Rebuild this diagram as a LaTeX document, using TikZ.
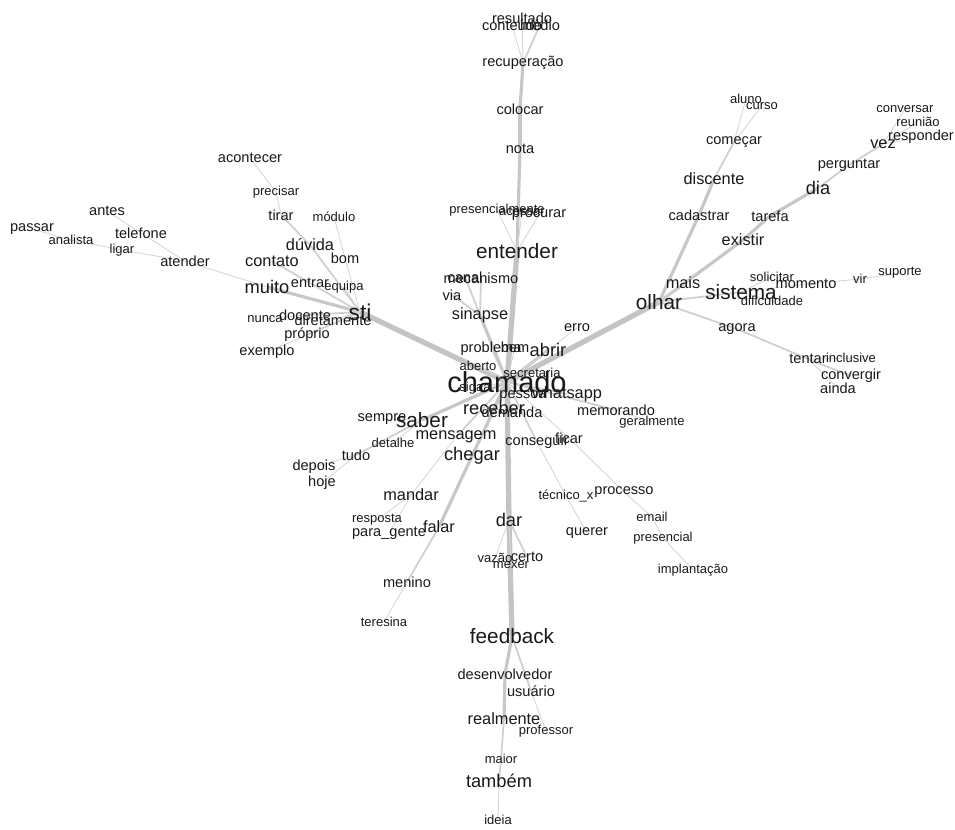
\documentclass[tikz,border=0pt]{standalone}
\usepackage{fontspec}
\setmainfont{Liberation Sans}
\usetikzlibrary{backgrounds}

\begin{document}
\begin{tikzpicture}[x=0.02cm,y=-0.02cm,
        every node/.style={inner sep=0pt, text=black!90},
        t1/.style={font=\fontsize{7.4}{8}\selectfont},
        t2/.style={font=\fontsize{8.3}{9}\selectfont},
        t3/.style={font=\fontsize{9.3}{10}\selectfont},
        t4/.style={font=\fontsize{10.4}{11}\selectfont},
        t5/.style={font=\fontsize{11.8}{12}\selectfont},
        t6/.style={font=\fontsize{13}{14}\selectfont},
        t7/.style={font=\fontsize{16.5}{17}\selectfont},
        e1/.style={draw=gray!32, line width=0.5pt},
        e2/.style={draw=gray!38, line width=1pt},
        e3/.style={draw=gray!44, line width=1.8pt},
        e4/.style={draw=gray!46, line width=3pt}]
        \useasboundingbox (0,0) rectangle (955,829);

        % centre
        \node[t7] (chamado) at (507,382) {chamado};
        \node[t2] (problema) at (491,349) {problema};
        \node[t2] (bem) at (515,347) {bem};
        \node[t4] (abrir) at (548,350) {abrir};
        \node[t2] (erro) at (577,328) {erro};
        \node[t1] (aberto) at (478,366) {aberto};
        \node[t1] (secretaria) at (532,373) {secretaria};
        \node[t1] (sigaa) at (475,388) {sigaa};
        \node[t2] (pessoa) at (523,396) {pessoa};
        \node[t3] (whatsapp) at (567,394) {whatsapp};
        \node[t4] (receber) at (494,408) {receber};
        \node[t2] (demanda) at (512,412) {demanda};

        % top
        \node[t2] (resultado) at (522,18) {resultado};
        \node[t2] (conteudo) at (512,25) {conteúdo};
        \node[t2] (medio) at (540,25) {médio};
        \node[t2] (recuperacao) at (523,63) {recuperação};
        \node[t2] (colocar) at (520,109) {colocar};
        \node[t2] (nota) at (520,149) {nota};
        \node[t1] (presencialmente) at (497,210) {presencialmente};
        \node[t1] (acessar) at (522,212) {acessar};
        \node[t2] (procurar) at (539,215) {procurar};
        \node[t5] (entender) at (517,251) {entender};
        \node[t2] (canal) at (465,277) {canal};
        \node[t2] (mecanismo) at (481,278) {mecanismo};
        \node[t2] (via) at (452,295) {via};
        \node[t3] (sinapse) at (480,315) {sinapse};

        % sti
        \node[t6] (sti) at (360,312) {sti};
        \node[t2] (acontecer) at (250,158) {acontecer};
        \node[t1] (precisar) at (276,192) {precisar};
        \node[t2] (tirar) at (281,215) {tirar};
        \node[t1] (modulo) at (334,217) {módulo};
        \node[t3] (duvida) at (310,245) {dúvida};
        \node[t2] (bom) at (345,258) {bom};
        \node[t3] (contato) at (272,261) {contato};
        \node[t4] (muito) at (267,287) {muito};
        \node[t2] (entrar) at (310,283) {entrar};
        \node[t1] (equipa) at (344,287) {equipa};
        \node[t1] (nunca) at (265,319) {nunca};
        \node[t2] (docente) at (305,315) {docente};
        \node[t2] (diretamente) at (333,320) {diretamente};
        \node[t2] (proprio) at (307,335) {próprio};
        \node[t2] (exemplo) at (267,352) {exemplo};
        \node[t2] (atender) at (185,261) {atender};
        \node[t2] (telefone) at (141,233) {telefone};
        \node[t2] (antes) at (107,211) {antes};
        \node[t1] (ligar) at (122,250) {ligar};
        \node[t1] (analista) at (71,240) {analista};
        \node[t2] (passar) at (32,229) {passar};

        % olhar
        \node[t5] (olhar) at (659,302) {olhar};
        \node[t3] (mais) at (683,283) {mais};
        \node[t2] (cadastrar) at (699,215) {cadastrar};
        \node[t3] (discente) at (714,179) {discente};
        \node[t2] (comecar) at (734,142) {começar};
        \node[t1] (aluno) at (746,99) {aluno};
        \node[t1] (curso) at (762,106) {curso};
        \node[t3] (existir) at (743,240) {existir};
        \node[t2] (tarefa) at (770,216) {tarefa};
        \node[t4] (dia) at (818,188) {dia};
        \node[t2] (perguntar) at (849,165) {perguntar};
        \node[t3] (vez) at (883,144) {vez};
        \node[t1] (conversar) at (905,109) {conversar};
        \node[t1] (reuniao) at (918,122) {reunião};
        \node[t2] (responder) at (921,137) {responder};
        \node[t5] (sistema) at (741,292) {sistema};
        \node[t1] (solicitar) at (772,277) {solicitar};
        \node[t2] (momento) at (806,284) {momento};
        \node[t1] (dificuldade) at (772,301) {dificuldade};
        \node[t1] (vir) at (860,279) {vir};
        \node[t1] (suporte) at (900,273) {suporte};
        \node[t2] (agora) at (737,329) {agora};
        \node[t2] (tentar) at (808,359) {tentar};
        \node[t1] (inclusive) at (851,358) {inclusive};
        \node[t2] (convergir) at (851,376) {convergir};
        \node[t2] (ainda) at (838,388) {ainda};

        % lower right
        \node[t2] (memorando) at (616,410) {memorando};
        \node[t1] (geralmente) at (652,422) {geralmente};
        \node[t2] (ficar) at (569,438) {ficar};
        \node[t2] (conseguir) at (537,442) {conseguir};
        \node[t1] (tecnico) at (566,496) {técnico\_x};
        \node[t2] (processo) at (624,492) {processo};
        \node[t1] (email) at (652,517) {email};
        \node[t1] (presencial) at (663,538) {presencial};
        \node[t2] (querer) at (587,533) {querer};
        \node[t1] (implantacao) at (693,570) {implantação};

        % lower left
        \node[t5] (saber) at (422,420) {saber};
        \node[t2] (sempre) at (382,419) {sempre};
        \node[t1] (detalhe) at (393,443) {detalhe};
        \node[t2] (tudo) at (356,455) {tudo};
        \node[t2] (depois) at (314,467) {depois};
        \node[t2] (hoje) at (322,483) {hoje};
        \node[t3] (mensagem) at (456,437) {mensagem};
        \node[t4] (chegar) at (472,456) {chegar};
        \node[t3] (mandar) at (411,495) {mandar};
        \node[t1] (resposta) at (377,520) {resposta};
        \node[t2] (paragente) at (389,533) {para\_gente};
        \node[t3] (falar) at (439,527) {falar};
        \node[t2] (menino) at (407,582) {menino};
        \node[t1] (teresina) at (384,622) {teresina};

        % bottom
        \node[t4] (dar) at (509,520) {dar};
        \node[t1] (vazao) at (495,558) {vazão};
        \node[t1] (mexer) at (511,565) {mexer};
        \node[t2] (certo) at (527,557) {certo};
        \node[t5] (feedback) at (512,636) {feedback};
        \node[t2] (desenvolvedor) at (505,674) {desenvolvedor};
        \node[t2] (usuario) at (531,691) {usuário};
        \node[t3] (realmente) at (504,719) {realmente};
        \node[t1] (professor) at (546,731) {professor};
        \node[t1] (maior) at (501,759) {maior};
        \node[t4] (tambem) at (499,781) {também};
        \node[t1] (ideia) at (498,820) {ideia};

        \begin{scope}[on background layer]
        \foreach \a/\b in {chamado/entender, chamado/sti, chamado/olhar, chamado/dar, dar/feedback}
            \draw[e4] (\a.center) -- (\b.center);
        \foreach \a/\b in {chamado/saber, chamado/chegar, chamado/receber, chamado/abrir, chamado/sinapse,
                entender/nota, nota/colocar, colocar/recuperacao, sti/muito, olhar/cadastrar,
                cadastrar/discente, olhar/existir, existir/tarefa, tarefa/dia, chegar/falar,
                feedback/desenvolvedor, desenvolvedor/realmente}
            \draw[e3] (\a.center) -- (\b.center);
        \foreach \a/\b in {chamado/whatsapp, chamado/memorando, chamado/conseguir, chamado/mensagem,
                recuperacao/medio, sti/contato, sti/duvida, duvida/tirar, sti/docente, sti/proprio,
                discente/comecar, dia/perguntar, perguntar/vez, olhar/sistema, olhar/agora,
                agora/tentar, tentar/convergir, sinapse/canal, sinapse/mecanismo, sinapse/via,
                saber/tudo, falar/menino, dar/certo, realmente/maior, maior/tambem, feedback/usuario}
            \draw[e2] (\a.center) -- (\b.center);
        \foreach \a/\b in {chamado/erro, chamado/ficar, chamado/problema, chamado/bem, chamado/aberto,
                chamado/sigaa, chamado/secretaria, chamado/pessoa, chamado/demanda,
                recuperacao/resultado, recuperacao/conteudo, entender/presencialmente,
                entender/acessar, entender/procurar, tirar/precisar, precisar/acontecer,
                sti/bom, bom/modulo, sti/entrar, sti/equipa, sti/diretamente, docente/nunca,
                proprio/exemplo, muito/atender, atender/telefone, telefone/antes, atender/ligar,
                ligar/analista, analista/passar, comecar/aluno, comecar/curso, vez/conversar,
                vez/reuniao, vez/responder, olhar/mais, sistema/solicitar, sistema/momento,
                momento/vir, vir/suporte, sistema/dificuldade, tentar/inclusive, tentar/ainda,
                memorando/geralmente, ficar/processo, processo/email, email/presencial,
                presencial/implantacao, conseguir/tecnico, tecnico/querer, mensagem/mandar,
                mandar/resposta, mandar/paragente, menino/teresina, saber/sempre, saber/detalhe,
                tudo/depois, tudo/hoje, dar/vazao, dar/mexer, usuario/professor, tambem/ideia}
            \draw[e1] (\a.center) -- (\b.center);
        \end{scope}
\end{tikzpicture}
\end{document}
